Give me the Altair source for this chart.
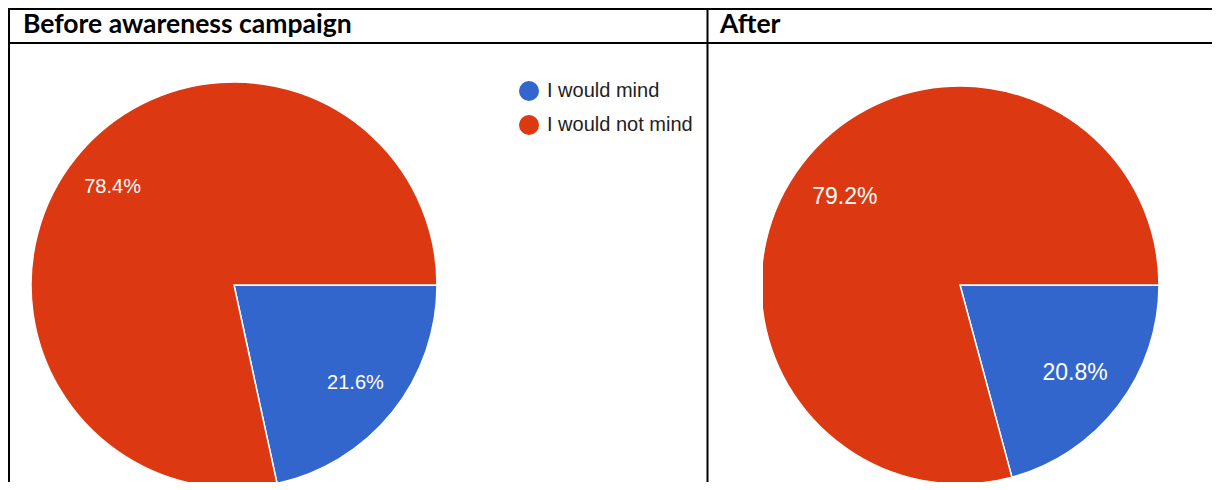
import math
import altair as alt
import pandas as pd

categories = ["I would mind", "I would not mind"]
before_values = [21.6, 78.4]
after_values = [20.8, 79.2]
panel_titles = ["Before awareness campaign", "After"]
slice_colors = ["#3366CC", "#DC3912"]

W, H = 1204, 474


def make_df(vals):
    return pd.DataFrame({
        "category": categories,
        "value": vals,
        "idx": list(range(len(vals))),
        "label": [f"{v:.1f}%" for v in vals],
    })


theta_scale = alt.Scale(range=[math.pi / 2, math.pi / 2 + 2 * math.pi])
legend = alt.Legend(
    title=None, orient="none", legendX=511, legendY=73,
    symbolType="circle", symbolSize=400, symbolStrokeWidth=0,
    labelFont="Liberation Sans", labelFontSize=20, labelColor="#222222",
    labelOffset=8, rowPadding=14, padding=0,
)
color = alt.Color("category:N", scale=alt.Scale(domain=categories, range=slice_colors), legend=legend)


def pie(vals, cx, cy, R, rlab, fs):
    d = make_df(vals)
    theta = alt.Theta("value:Q", stack=True, scale=theta_scale)
    arc = alt.Chart(d).mark_arc(outerRadius=R, stroke="white", strokeWidth=1.5).encode(
        theta=theta, color=color, order=alt.Order("idx:Q"),
        x=alt.value(cx), y=alt.value(cy),
    )
    txt = alt.Chart(d).mark_text(radius=rlab, fontSize=fs, font="Liberation Sans", color="white").encode(
        theta=theta, detail="category:N", order=alt.Order("idx:Q"), text="label:N",
        x=alt.value(cx), y=alt.value(cy),
    )
    return [arc, txt]


def header(t, x):
    return alt.Chart(pd.DataFrame({"t": [t]})).mark_text(
        align="left", baseline="alphabetic", font="Lato", fontWeight="bold", fontSize=26.5, color="black"
    ).encode(text="t:N", x=alt.value(x), y=alt.value(25))


def rule(**kw):
    return alt.Chart(pd.DataFrame({"a": [0]})).mark_rule(color="black", strokeWidth=2).encode(**kw)


mask = alt.Chart(pd.DataFrame({"a": [0]})).mark_rect(color="white").encode(
    x=alt.value(702), x2=alt.value(755), y=alt.value(36), y2=alt.value(H)
)

layers = []
layers += pie(before_values, 226, 277, 203, 156, 20)
layers += pie(after_values, 952, 277, 199, 145, 23)
layers += [mask]
layers += [header(panel_titles[0], 15), header(panel_titles[1], 712)]
layers += [
    rule(x=alt.value(0), x2=alt.value(W), y=alt.value(1)),
    rule(x=alt.value(0), x2=alt.value(W), y=alt.value(35)),
    rule(x=alt.value(1), y=alt.value(0), y2=alt.value(H)),
    rule(x=alt.value(699.5), y=alt.value(0), y2=alt.value(H)),
]

chart = alt.layer(*layers).properties(
    width=W, height=H, padding=0, autosize=alt.AutoSizeParams(type="none")
).configure_view(stroke=None).resolve_scale(theta="shared")

chart.save("out.html", embed_options={"renderer": "svg", "actions": False})
